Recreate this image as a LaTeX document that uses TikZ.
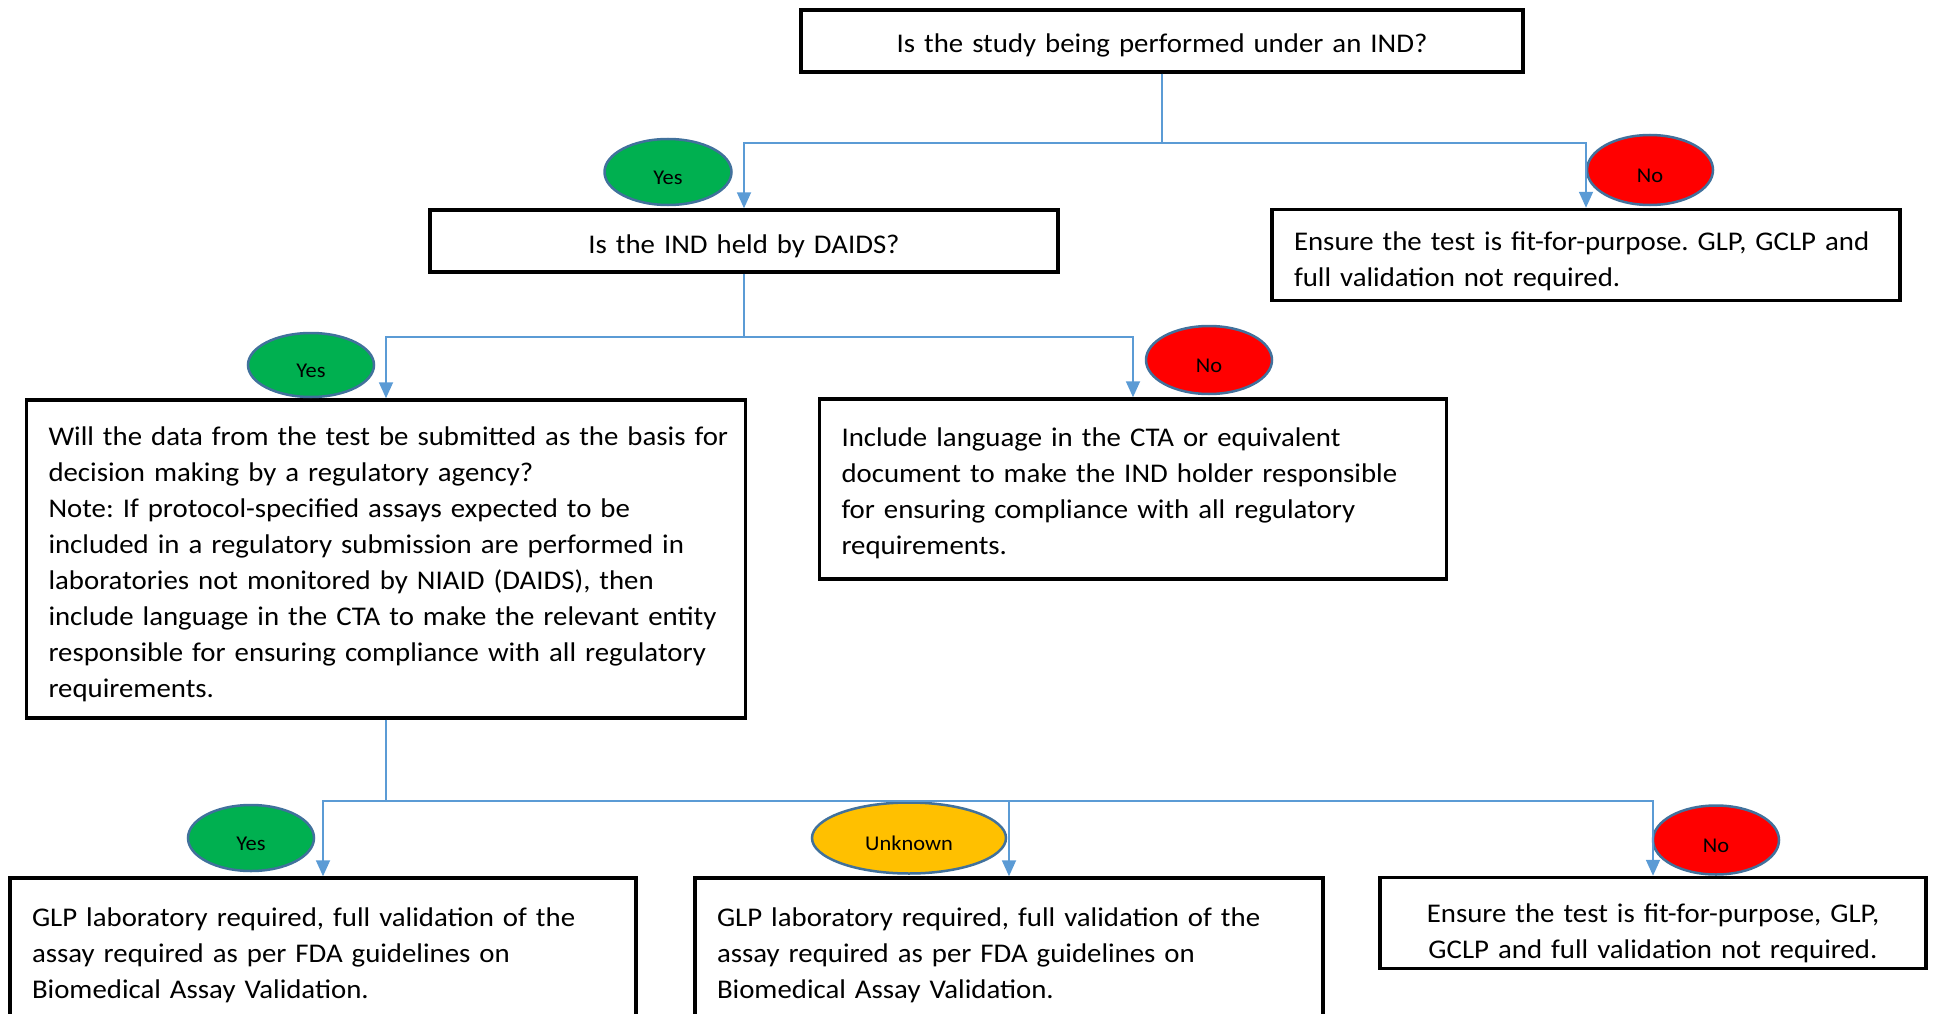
\documentclass[tikz,border=0pt]{standalone}
\usepackage{fontspec}
\setmainfont{Carlito}[FakeStretch=1.068]
\usetikzlibrary{arrows.meta,shapes.geometric}
\definecolor{linkblue}{HTML}{5B9BD5}
\definecolor{rimblue}{HTML}{41719C}
\definecolor{yesgreen}{HTML}{00B050}
\definecolor{nored}{HTML}{FF0000}
\definecolor{unkamber}{HTML}{FFC000}
\newcommand{\textlines}[3][l]{\raisebox{-#2}[\height][\depth]{\begin{tabular}{@{}#1@{}}#3\end{tabular}}}
\frenchspacing

\begin{document}
\begin{tikzpicture}[x=1pt,y=-1pt,
  box/.style={draw,line width=3.5pt,inner xsep=22pt,inner ysep=0pt,
    font=\fontsize{27}{36}\selectfont},
  oval/.style={ellipse,draw=rimblue,line width=2.5pt,inner sep=0pt,
    text height=25pt,text depth=0pt,font=\fontsize{21}{25}\selectfont},
  link/.style={draw=linkblue,line width=1.8pt,-{Triangle[length=16pt,width=14pt]}}]
\path[use as bounding box,clip] (0,0) rectangle (1933,1014);

\node[box,align=center,minimum width=722pt,text width=678pt,minimum height=62pt] (ind) at (1162,41)
  {\textlines[c]{4pt}{Is the study being performed under an IND?}};
\node[box,align=center,minimum width=628pt,text width=584pt,minimum height=62pt] (daids) at (744,241)
  {\textlines[c]{5pt}{Is the IND held by DAIDS?}};
\node[box,align=left,minimum width=628pt,text width=584pt,minimum height=91pt] (noind) at (1586,255)
  {\textlines{6pt}{Ensure the test is fit-for-purpose. GLP, GCLP and\\full validation not required.}};
\node[box,align=left,minimum width=719pt,text width=675pt,minimum height=318pt] (submit) at (386,559)
  {\textlines{5pt}{Will the data from the test be submitted as the basis for\\
   decision making by a regulatory agency?\\
   Note: If protocol-specified assays expected to be\\
   included in a regulatory submission are performed in\\
   laboratories not monitored by NIAID (DAIDS), then\\
   include language in the CTA to make the relevant entity\\
   responsible for ensuring compliance with all regulatory\\
   requirements.}};
\node[box,align=left,minimum width=627pt,text width=583pt,minimum height=180pt] (nodaids) at (1133,489)
  {\textlines{4pt}{Include language in the CTA or equivalent\\
   document to make the IND holder responsible\\
   for ensuring compliance with all regulatory\\
   requirements.}};
\node[box,align=left,minimum width=626pt,text width=582pt,minimum height=146pt] (glpyes) at (323,951)
  {\textlines{4pt}{GLP laboratory required, full validation of the\\
   assay required as per FDA guidelines on\\
   Biomedical Assay Validation.}};
\node[box,align=left,minimum width=628pt,text width=584pt,minimum height=146pt] (glpunk) at (1009,951)
  {\textlines{4pt}{GLP laboratory required, full validation of the\\
   assay required as per FDA guidelines on\\
   Biomedical Assay Validation.}};
\node[box,align=center,minimum width=546pt,text width=502pt,minimum height=91pt] (glpno) at (1653,923)
  {\textlines[c]{10pt}{Ensure the test is fit-for-purpose, GLP,\\GCLP and full validation not required.}};

\node[oval,fill=yesgreen,minimum width=127pt,minimum height=66pt] (yes1) at (668,172) {Yes};
\node[oval,fill=nored,minimum width=126pt,minimum height=70pt] (no1) at (1650,170) {No};
\node[oval,fill=yesgreen,minimum width=126pt,minimum height=64pt] (yes2) at (311,365) {Yes};
\node[oval,fill=nored,minimum width=126pt,minimum height=68pt] (no2) at (1209,360) {No};
\node[oval,fill=yesgreen,minimum width=126pt,minimum height=66pt] (yes3) at (251,838) {Yes};
\node[oval,fill=unkamber,minimum width=194pt,minimum height=71pt] (unk3) at (909,838) {Unknown};
\node[oval,fill=nored,minimum width=126pt,minimum height=69pt] (no3) at (1716,840) {No};

\draw[link] (ind.south) -- ++(0,69) -| (daids.north);
\draw[link] (ind.south) -- ++(0,69) -| (noind.north);
\draw[link] (daids.south) -- ++(0,63) -| (submit.north);
\draw[link] (daids.south) -- ++(0,63) -| (nodaids.north);
\draw[link] (submit.south) -- ++(0,81) -| (glpyes.north);
\draw[link] (submit.south) -- ++(0,81) -| (glpunk.north);
\draw[link] (submit.south) -- ++(0,81) -| (glpno.north);
\end{tikzpicture}
\end{document}
